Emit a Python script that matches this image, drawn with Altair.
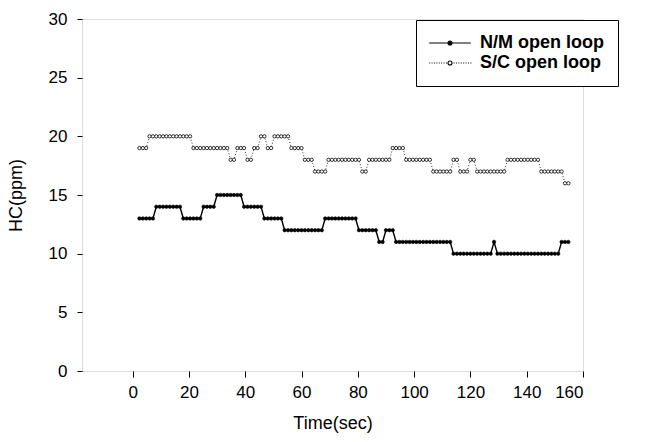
import altair as alt
import pandas as pd

FONT = "Liberation Sans"

series_names = ["N/M open loop", "S/C open loop"]

time_sec = [round(2.4 + 1.2 * i, 1) for i in range(128)]

nm_hc = [
    13, 13, 13, 13, 13, 14, 14, 14, 14, 14, 14, 14, 14, 13, 13, 13,
    13, 13, 13, 14, 14, 14, 14, 15, 15, 15, 15, 15, 15, 15, 15, 14,
    14, 14, 14, 14, 14, 13, 13, 13, 13, 13, 13, 12, 12, 12, 12, 12,
    12, 12, 12, 12, 12, 12, 12, 13, 13, 13, 13, 13, 13, 13, 13, 13,
    13, 12, 12, 12, 12, 12, 12, 11, 11, 12, 12, 12, 11, 11, 11, 11,
    11, 11, 11, 11, 11, 11, 11, 11, 11, 11, 11, 11, 11, 10, 10, 10,
    10, 10, 10, 10, 10, 10, 10, 10, 10, 11, 10, 10, 10, 10, 10, 10,
    10, 10, 10, 10, 10, 10, 10, 10, 10, 10, 10, 10, 10, 11, 11, 11,
]

sc_hc = [
    19, 19, 19, 20, 20, 20, 20, 20, 20, 20, 20, 20, 20, 20, 20, 20,
    19, 19, 19, 19, 19, 19, 19, 19, 19, 19, 19, 18, 18, 19, 19, 19,
    18, 18, 19, 19, 20, 20, 19, 19, 20, 20, 20, 20, 20, 19, 19, 19,
    19, 18, 18, 18, 17, 17, 17, 17, 18, 18, 18, 18, 18, 18, 18, 18,
    18, 18, 17, 17, 18, 18, 18, 18, 18, 18, 18, 19, 19, 19, 19, 18,
    18, 18, 18, 18, 18, 18, 18, 17, 17, 17, 17, 17, 17, 18, 18, 17,
    17, 17, 18, 18, 17, 17, 17, 17, 17, 17, 17, 17, 17, 18, 18, 18,
    18, 18, 18, 18, 18, 18, 18, 17, 17, 17, 17, 17, 17, 17, 16, 16,
]

x_ticks = [0, 20, 40, 60, 80, 100, 120, 140, 160]
y_ticks = [0, 5, 10, 15, 20, 25, 30]

df = pd.DataFrame({
    "t": time_sec + time_sec,
    "hc": nm_hc + sc_hc,
    "series": [series_names[0]] * len(nm_hc) + [series_names[1]] * len(sc_hc),
})

# legend symbol paths (unit = 8 px at symbolSize 256)
circ = "M-0.25,0A0.25,0.25,0,1,0,0.25,0A0.25,0.25,0,1,0,-0.25,0Z"
path_nm = "M-2.6,0L2.6,0" + circ
dots = []
xx = -2.6
while xx < -0.4:
    dots.append(f"M{xx:.2f},0L{xx + 0.12:.2f},0")
    xx += 0.3
xx = 0.45
while xx < 2.6:
    dots.append(f"M{xx:.2f},0L{xx + 0.12:.2f},0")
    xx += 0.3
path_sc = "".join(dots) + circ

x_enc = alt.X(
    "t:Q",
    scale=alt.Scale(domain=[-18, 160], nice=False, zero=False),
    axis=alt.Axis(
        values=x_ticks, title="Time(sec)", grid=False, domain=False,
        tickSize=6, tickColor="black", tickWidth=1,
        labelPadding=7, labelFont=FONT, labelFontSize=17, labelColor="black",
        titleFont=FONT, titleFontSize=18, titleFontWeight="normal", titleColor="black",
        titleX=250.5, titleY=57, titleAlign="center", titleBaseline="alphabetic",
    ),
)
y_enc = alt.Y(
    "hc:Q",
    scale=alt.Scale(domain=[0, 30], nice=False, zero=True),
    axis=alt.Axis(
        values=y_ticks, title="HC(ppm)", grid=False, domain=False,
        tickSize=5, tickColor="black", tickWidth=1,
        labelPadding=10, labelFont=FONT, labelFontSize=17, labelColor="black",
        titleFont=FONT, titleFontSize=18, titleFontWeight="normal", titleColor="black",
        titleAngle=270, titleX=-61, titleY=176, titleAlign="center", titleBaseline="alphabetic",
    ),
)

base = alt.Chart(df).encode(x=x_enc, y=y_enc)
nm = base.transform_filter(alt.datum.series == series_names[0])
sc = base.transform_filter(alt.datum.series == series_names[1])

nm_line = nm.mark_line(color="black", strokeWidth=1.4)
sc_line = sc.mark_line(color="black", strokeWidth=0.8, strokeDash=[1, 2])
nm_pts = nm.mark_point(shape="circle", filled=True, fill="black", stroke="black",
                       strokeWidth=0.6, size=12, opacity=1)
sc_pts = sc.mark_point(shape="circle", filled=False, fill="white", stroke="black",
                       strokeWidth=0.8, size=11, opacity=1)

leg = alt.Legend(
    orient="none", legendX=334, legendY=1, title=None,
    padding=14, strokeColor="black", fillColor="white",
    labelFont=FONT, labelFontSize=18, labelFontWeight="bold", labelColor="black",
    symbolSize=256, symbolStrokeWidth=1.1, symbolStrokeColor="black",
    symbolOffset=11, labelOffset=21, rowPadding=2,
)

legend_layer = base.transform_filter("datum.t < -1000").mark_point(
    filled=True, stroke="black", strokeWidth=1.1, opacity=1
).encode(
    shape=alt.Shape("series:N", scale=alt.Scale(domain=series_names, range=[path_nm, path_sc]), legend=leg),
    fill=alt.Fill("series:N", scale=alt.Scale(domain=series_names, range=["black", "white"]), legend=leg),
    stroke=alt.Stroke("series:N", scale=alt.Scale(domain=series_names, range=["black", "black"]), legend=leg),
)

chart = alt.layer(sc_line, sc_pts, nm_line, nm_pts, legend_layer).properties(
    width=501, height=352,
    autosize=alt.AutoSizeParams(type="none"),
    padding={"left": 82, "top": 19, "right": 64, "bottom": 71},
).configure_view(stroke="black", strokeWidth=1).configure(background="white")

chart.save("out.html", embed_options={"renderer": "svg", "actions": False})
